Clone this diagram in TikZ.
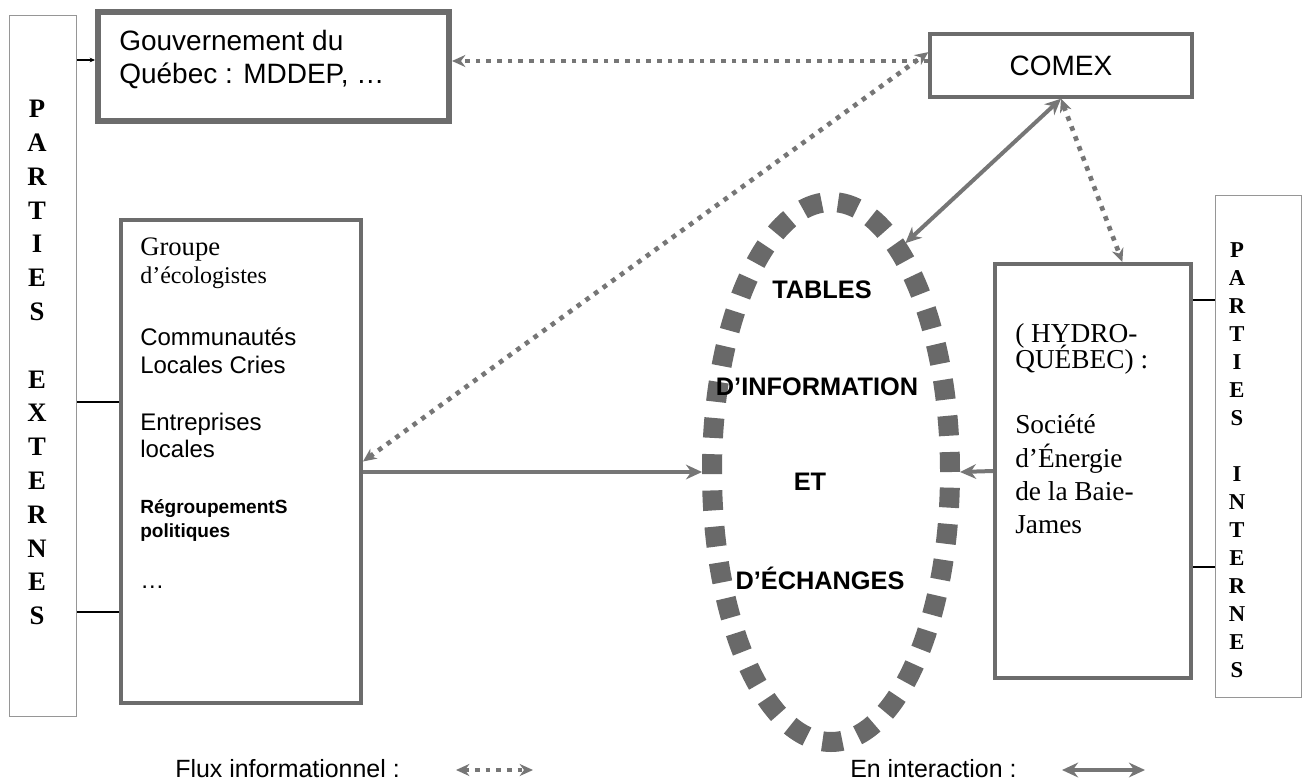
\documentclass[tikz,border=0pt]{standalone}
\usepackage{fontspec}
\setmainfont{Liberation Serif}
\setsansfont{Liberation Sans}
\usetikzlibrary{arrows.meta,shapes.geometric}

\definecolor{boxgray}{RGB}{108,108,108}
\definecolor{thingray}{RGB}{150,150,150}
\definecolor{linkgray}{RGB}{118,118,118}
\definecolor{ringgray}{RGB}{105,105,105}

\tikzset{
  partbox/.style={draw=thingray, line width=0.8pt, rectangle, inner sep=0pt},
  actorbox/.style={draw=boxgray, rectangle, inner sep=0pt},
  tablesring/.style={draw=ringgray, ellipse, line width=15pt, dash pattern=on 15pt off 12.2pt, inner sep=0pt},
  interact/.style={draw=linkgray, line width=3pt, >={Stealth[length=12pt,width=11pt]}},
  info/.style={draw=linkgray, line width=3.5pt, dash pattern=on 3.5pt off 4.5pt, >={Stealth[length=10pt,width=9pt]}},
  link/.style={draw=black, line width=0.8pt},
  sanslbl/.style={font=\sffamily\fontsize{18pt}{21pt}\selectfont, anchor=base west, inner sep=0pt},
  seriflbl/.style={font=\fontsize{20.5pt}{24pt}\selectfont, anchor=base west, inner sep=0pt},
  tableslbl/.style={font=\sffamily\bfseries\fontsize{19pt}{22pt}\selectfont, inner sep=0pt},
  legendlbl/.style={font=\sffamily\fontsize{18.7pt}{22pt}\selectfont, anchor=base west, inner sep=0pt},
}

\begin{document}
\begin{tikzpicture}[x=0.75pt,y=0.75pt,yscale=-1]
\useasboundingbox (0,0) rectangle (1304,782);

%Shapes: boxes
\node[partbox, minimum width=50.25pt, minimum height=525.75pt] (ext) at (43,366) {};
\node[partbox, minimum width=64.5pt, minimum height=376.5pt] (int) at (1258.5,446.5) {};
\node[actorbox, line width=4.5pt, minimum width=263.25pt, minimum height=81.75pt] (gov) at (273.5,66.5) {};
\node[actorbox, line width=3pt, minimum width=180pt, minimum height=362.25pt] (groupe) at (241,461.5) {};
\node[actorbox, line width=2.6pt, minimum width=196.5pt, minimum height=47.25pt, font=\sffamily\fontsize{21pt}{24pt}\selectfont] (comex) at (1061,65.5) {COMEX};
\node[actorbox, line width=3pt, minimum width=147pt, minimum height=310.5pt] (hydro) at (1093,471) {};

%Shape: dashed ellipse
\node[tablesring, minimum width=178.5pt, minimum height=405pt] (tables) at (831,472) {};

%Vertical labels
\node[font=\bfseries\fontsize{20pt}{25.35pt}\selectfont, align=center, inner sep=0pt] (extlbl) at (37,362.5)
  {P\\A\\R\\T\\I\\E\\S\\[25.35pt]E\\X\\T\\E\\R\\N\\E\\S};
\node[font=\bfseries\fontsize{17pt}{21pt}\selectfont, align=center, inner sep=0pt] (intlbl) at (1237,460)
  {P\\A\\R\\T\\I\\E\\S\\[21pt]I\\N\\T\\E\\R\\N\\E\\S};

%Connectors: thin links
\draw[link, -{Stealth[length=4pt,width=3.5pt]}] (ext.east |- 0,60) -- (gov.west |- 0,60);
\draw[link] (ext.east |- 0,402) -- (groupe.west |- 0,402);
\draw[link] (ext.east |- 0,612) -- (groupe.west |- 0,612);
\draw[link] (hydro.east |- 0,300) -- (int.west |- 0,300);
\draw[link] (hydro.east |- 0,567) -- (int.west |- 0,567);

%Connectors: interactions
\draw[interact, ->] (groupe.east |- tables.west) -- (tables.west);
\draw[interact, ->] (hydro.west) -- (tables.east);
\draw[interact, <->] (comex.south) -- (tables.72);

%Connectors: information flows
\draw[info, ->] (comex.west |- 0,61) -- (gov.east |- 0,61);
\draw[info, <->] (groupe.east) -- ([yshift=-10pt]comex.west);
\draw[info, <->] (comex.south) -- ([xshift=22pt]hydro.north);

% Text Node: government
\node[sanslbl, font=\sffamily\fontsize{21pt}{24pt}\selectfont] (gov1) at (119,50) {Gouvernement du};
\node[sanslbl, font=\sffamily\fontsize{21pt}{24pt}\selectfont] (gov2) at (119,83) {Québec : MDDEP, …};

% Text Node: external groups
\node[seriflbl, font=\fontsize{20pt}{24pt}\selectfont] (grp1) at (140,255) {Groupe};
\node[seriflbl, font=\fontsize{18pt}{22pt}\selectfont] (grp2) at (140,283) {d’écologistes};
\node[sanslbl] (grp3) at (140,345) {Communautés};
\node[sanslbl] (grp4) at (140,373) {Locales Cries};
\node[sanslbl] (grp5) at (140,430) {Entreprises};
\node[sanslbl] (grp6) at (140,457) {locales};
\node[sanslbl, font=\sffamily\bfseries\fontsize{14.3pt}{17pt}\selectfont] (grp7) at (140,513) {RégroupementS};
\node[sanslbl, font=\sffamily\bfseries\fontsize{14.3pt}{17pt}\selectfont] (grp8) at (140,537) {politiques};
\node[sanslbl] (grp9) at (140,588) {…};

% Text Node: hydro
\node[seriflbl] (hq1) at (1015,342) {( HYDRO-};
\node[seriflbl] (hq2) at (1015,368) {QUÉBEC) :};
\node[seriflbl] (hq3) at (1015,433) {Société};
\node[seriflbl] (hq4) at (1015,467) {d’Énergie};
\node[seriflbl] (hq5) at (1015,500) {de la Baie-};
\node[seriflbl] (hq6) at (1015,533) {James};

% Text Node: tables
\node[tableslbl] (tab1) at (822,290) {TABLES};
\node[tableslbl] (tab2) at (817,387) {D’INFORMATION};
\node[tableslbl] (tab3) at (810,482) {ET};
\node[tableslbl] (tab4) at (820,578) {D’ÉCHANGES};

% Legend
\node[legendlbl] (fluxlbl) at (175,777) {Flux informationnel :};
\coordinate (fluxa) at (456,770);
\coordinate (fluxb) at (533,770);
\draw[info, <->] (fluxa) -- (fluxb);
\node[legendlbl] (interlbl) at (850,777) {En interaction :};
\coordinate (intera) at (1062,770);
\coordinate (interb) at (1145,770);
\draw[interact, <->] (intera) -- (interb);

\end{tikzpicture}
\end{document}
